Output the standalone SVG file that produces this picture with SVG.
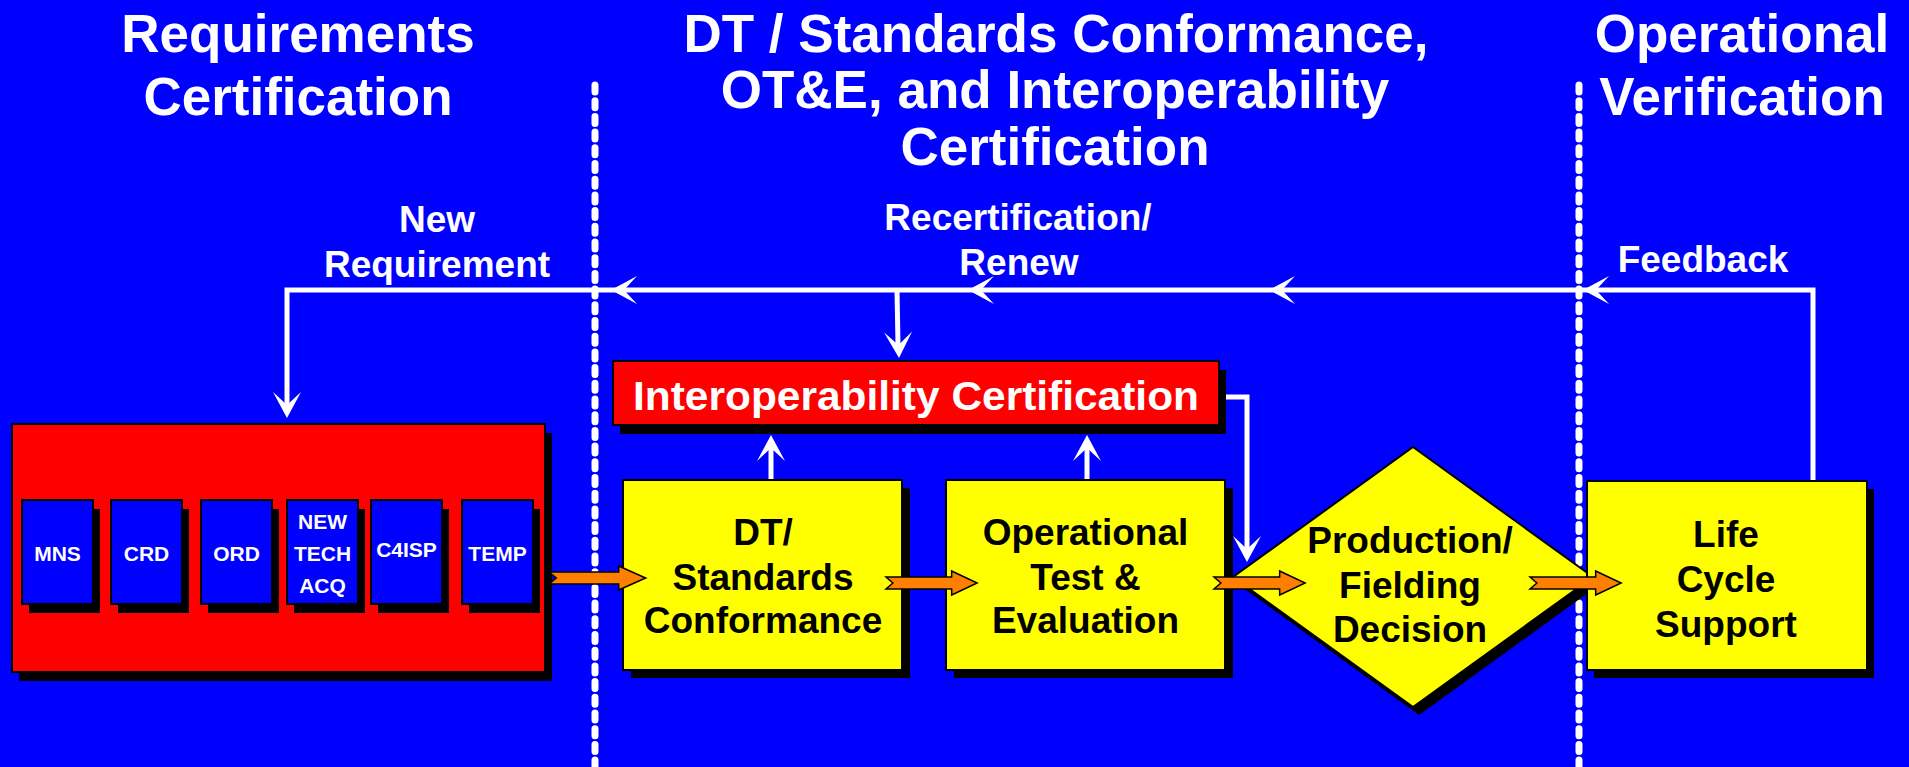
<svg xmlns="http://www.w3.org/2000/svg" xmlns:xlink="http://www.w3.org/1999/xlink" width="1909" height="767" viewBox="0 0 1909 767">
<style>
text{font-family:"Liberation Sans",Arial,Helvetica,sans-serif;font-weight:bold;text-anchor:middle}
.title{font-size:53px;fill:#fff}
.lbl{font-size:37px;fill:#fff}
.node{font-size:37px;fill:#000}
.small{font-size:21px;fill:#fff}
.shadow{fill:#000}
.red{fill:#ff0000;stroke:#000;stroke-width:2}
.yel{fill:#ffff00;stroke:#000;stroke-width:2}
.blu{fill:#0000ff;stroke:#000;stroke-width:2}
.sep{stroke:#fff;stroke-width:7;stroke-linecap:round;stroke-dasharray:7 8.7;fill:none}
.wire{stroke:#fff;stroke-width:5;fill:none}
.ah{fill:#fff}
.oa{fill:#ff8000;stroke:#000;stroke-width:1.5}
</style>
<defs>
<path id="ah" d="M0,0 L-26,-14 L-13,0 L-26,14 Z"/>
<path id="oarrow" d="M0,-6 H67 V-12 L93,0 L67,12 V6 H0 L7,0 Z"/>
</defs>
<rect x="0" y="0" width="1909" height="767" fill="#0000ff"/>

<g id="titles">
<text class="title" x="298" y="52">Requirements</text>
<text class="title" x="298" y="115">Certification</text>
<text class="title" x="1056" y="52">DT / Standards Conformance,</text>
<text class="title" x="1055" y="108">OT&amp;E, and Interoperability</text>
<text class="title" x="1055" y="165">Certification</text>
<text class="title" x="1742" y="52">Operational</text>
<text class="title" x="1742" y="115">Verification</text>
</g>

<g id="separators">
<line class="sep" x1="595" y1="85" x2="595" y2="770"/>
<line class="sep" x1="1579" y1="85" x2="1579" y2="770"/>
</g>

<g id="connectors">
<path class="wire" d="M1813,480 V290 H287 V405"/>
<use href="#ah" class="ah" transform="translate(287,418) rotate(90)"/>
<use href="#ah" class="ah" transform="translate(611,290) rotate(180)"/>
<use href="#ah" class="ah" transform="translate(968,290) rotate(180)"/>
<use href="#ah" class="ah" transform="translate(1269,290) rotate(180)"/>
<use href="#ah" class="ah" transform="translate(1583,290) rotate(180)"/>
<path class="wire" d="M897,290 L898,345"/>
<use href="#ah" class="ah" transform="translate(899,358) rotate(88)"/>
<path class="wire" d="M771,480 V448"/>
<use href="#ah" class="ah" transform="translate(771,435) rotate(-90)"/>
<path class="wire" d="M1087,480 V448"/>
<use href="#ah" class="ah" transform="translate(1087,435) rotate(-90)"/>
<path class="wire" d="M1219,397 H1247 V549"/>
<use href="#ah" class="ah" transform="translate(1247,562) rotate(90)"/>
<text class="lbl" x="437" y="232">New</text>
<text class="lbl" x="437" y="277">Requirement</text>
<text class="lbl" x="1018" y="230">Recertification/</text>
<text class="lbl" x="1019" y="275">Renew</text>
<text class="lbl" x="1703" y="272">Feedback</text>
</g>

<g id="requirements">
<rect class="shadow" x="19" y="433" width="533" height="248"/>
<rect class="red" x="12" y="424" width="533" height="248"/>
<g id="mns">
<rect class="shadow" x="29" y="509" width="71" height="104"/>
<rect class="blu" x="22" y="500" width="71" height="104"/>
<text class="small" x="57.5" y="561">MNS</text>
</g>
<g id="crd">
<rect class="shadow" x="118" y="509" width="71" height="104"/>
<rect class="blu" x="111" y="500" width="71" height="104"/>
<text class="small" x="146.5" y="561">CRD</text>
</g>
<g id="ord">
<rect class="shadow" x="208" y="509" width="71" height="104"/>
<rect class="blu" x="201" y="500" width="71" height="104"/>
<text class="small" x="236.5" y="561">ORD</text>
</g>
<g id="newtech">
<rect class="shadow" x="294" y="509" width="71" height="104"/>
<rect class="blu" x="287" y="500" width="71" height="104"/>
<text class="small" x="322.5" y="529">NEW</text>
<text class="small" x="322.5" y="561">TECH</text>
<text class="small" x="322.5" y="593">ACQ</text>
</g>
<g id="c4isp">
<rect class="shadow" x="378" y="509" width="71" height="104"/>
<rect class="blu" x="371" y="500" width="71" height="104"/>
<text class="small" x="406.5" y="557">C4ISP</text>
</g>
<g id="temp">
<rect class="shadow" x="469" y="509" width="71" height="104"/>
<rect class="blu" x="462" y="500" width="71" height="104"/>
<text class="small" x="497.5" y="561">TEMP</text>
</g>
</g>

<g id="interop">
<rect class="shadow" x="620" y="370" width="606" height="64"/>
<rect class="red" x="613" y="361" width="606" height="64"/>
<text x="916" y="410" font-size="41" fill="#fff" textLength="566" lengthAdjust="spacingAndGlyphs">Interoperability Certification</text>
</g>

<g id="dt">
<rect class="shadow" x="631" y="488" width="279" height="190"/>
<rect class="yel" x="623" y="480" width="279" height="190"/>
<text class="node" x="763" y="545">DT/</text>
<text class="node" x="763" y="590">Standards</text>
<text class="node" x="763" y="633">Conformance</text>
</g>

<g id="ote">
<rect class="shadow" x="954" y="488" width="279" height="190"/>
<rect class="yel" x="946" y="480" width="279" height="190"/>
<text class="node" x="1085.5" y="545">Operational</text>
<text class="node" x="1085.5" y="590">Test &amp;</text>
<text class="node" x="1085.5" y="633">Evaluation</text>
</g>

<g id="production">
<polygon class="shadow" points="1419,455 1599,585 1419,715 1239,585"/>
<polygon class="yel" points="1413,447 1593,577 1413,707 1233,577"/>
<text class="node" x="1410" y="553">Production/</text>
<text class="node" x="1410" y="598">Fielding</text>
<text class="node" x="1410" y="642">Decision</text>
</g>

<g id="lifecycle">
<rect class="shadow" x="1594" y="489" width="280" height="189"/>
<rect class="yel" x="1587" y="481" width="280" height="189"/>
<text class="node" x="1726" y="547">Life</text>
<text class="node" x="1726" y="592">Cycle</text>
<text class="node" x="1726" y="637">Support</text>
</g>

<g id="flow-arrows">
<use href="#oarrow" class="oa" transform="translate(549,578) scale(1.04,1)"/>
<use href="#oarrow" class="oa" transform="translate(886,583) scale(0.98,1)"/>
<use href="#oarrow" class="oa" transform="translate(1214,583) scale(0.98,1)"/>
<use href="#oarrow" class="oa" transform="translate(1530,583) scale(0.98,1)"/>
</g>
</svg>
